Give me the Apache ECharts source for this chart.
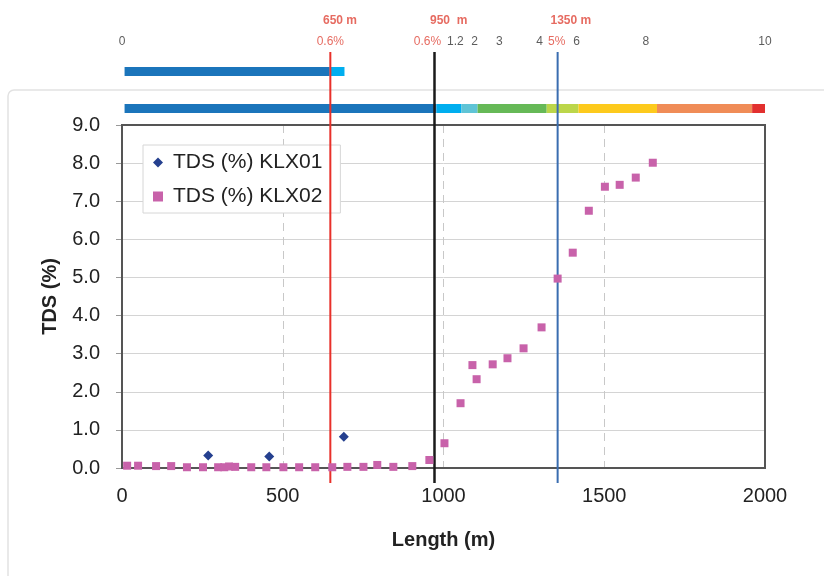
<!DOCTYPE html>
<html>
<head>
<meta charset="utf-8">
<script src="https://cdn.jsdelivr.net/npm/echarts@6/dist/echarts.min.js"></script>
<style>html,body{margin:0;padding:0;background:#fff}#c{width:824px;height:576px}</style>
</head>
<body>
<div id="c"></div>
<script>
// ---- data ----
const klx01 = [[268, 0.33], [458, 0.30], [690, 0.82]];
const klx02 = [
  [16, 0.06], [50, 0.06], [106, 0.05], [153, 0.05], [202, 0.02], [252, 0.02],
  [299, 0.02], [318, 0.02], [333, 0.04], [352, 0.03], [402, 0.02], [449, 0.02],
  [502, 0.02], [551, 0.02], [601, 0.02], [654, 0.02], [701, 0.03], [751, 0.03],
  [794, 0.08], [844, 0.03], [903, 0.05], [956, 0.21], [1003, 0.65], [1053, 1.70],
  [1090, 2.70], [1103, 2.33], [1153, 2.72], [1199, 2.88], [1249, 3.14], [1305, 3.69],
  [1355, 4.97], [1402, 5.65], [1452, 6.75], [1502, 7.38], [1548, 7.43], [1598, 7.62],
  [1651, 8.01]
];
const xTicks = [0, 500, 1000, 1500, 2000];
const yTicks = [0, 1, 2, 3, 4, 5, 6, 7, 8, 9];

// vertical marker lines (length, m)
const markerPos = [648, 972, 1355];
const markerColors = ['#e8302a', '#1a1a1a', '#3a6db0'];
const markerWidths = [2, 2.5, 2];

// top scale labels
const topTickLabels = ['0', '1.2', '2', '3', '4', '6', '8', '10'];
const topTickPos = [0, 1037, 1097, 1174, 1299, 1414, 1629, 2000];
const markerMLabels = ['650 m', '950  m', '1350 m'];
const markerMPos = [678, 1016, 1396];
const markerPctLabels = ['0.6%', '0.6%', '5%'];
const markerPctPos = [648, 950, 1352];

// colour bars: segment end positions (m), start at barStart
const barStart = 8;
const upperEnds = [645, 692];
const upperColors = ['#1b75bb', '#00aeef'];
const lowerEnds = [978, 1056, 1106, 1321, 1420, 1664, 1960, 2000];
const lowerColors = ['#1b75bb', '#00aeef', '#5fc4d6', '#66b957', '#bcd64a', '#fdca1c', '#f08c57', '#e2302f'];

// ---- build ----
function segs(ends, colors, row) {
  const out = [];
  let s = barStart;
  ends.forEach((e, i) => { out.push({ value: [s, e, row], itemStyle: { color: colors[i] } }); s = e; });
  return out;
}
const barData = segs(upperEnds, upperColors, 1.5).concat(segs(lowerEnds, lowerColors, 0.5));

const markerSeries = markerPos.map((p, i) => ({
  type: 'line', xAxisIndex: 1, yAxisIndex: 1, z: 3, silent: true,
  data: [[p, 0], [p, 1]], symbol: 'none',
  lineStyle: { color: markerColors[i], width: markerWidths[i] }
}));

const labelData = [];
topTickLabels.forEach((t, i) => labelData.push({ value: [topTickPos[i], 2], name: t, label: { color: '#333', fontWeight: 'normal' } }));
markerMLabels.forEach((t, i) => labelData.push({ value: [markerMPos[i], 1], name: t, label: { color: '#e0463a', fontWeight: 'bold' } }));
markerPctLabels.forEach((t, i) => labelData.push({ value: [markerPctPos[i], 2], name: t, label: { color: '#e0463a', fontWeight: 'normal' } }));

const FONT = 'Liberation Sans, Arial, sans-serif';
const chart = echarts.init(document.getElementById('c'), null, { renderer: 'canvas' });
const hidX = (gi) => ({ type: 'value', gridIndex: gi, min: 0, max: 2000, show: false });
chart.setOption({
  animation: false,
  backgroundColor: '#fff',
  textStyle: { fontFamily: FONT },
  graphic: [{
    type: 'rect', z: -10, silent: true,
    shape: { x: 8, y: 90, width: 840, height: 520, r: 6 },
    style: { fill: 'none', stroke: '#e2e2e2', lineWidth: 1.5 }
  }],
  grid: [
    { left: 122, right: 59, top: 125, bottom: 108, show: true, borderColor: '#555', borderWidth: 2, z: 1 },
    { left: 122, right: 59, top: 52, bottom: 93 },
    { left: 122, right: 59, top: 53, height: 74 },
    { left: 122, right: 59, top: 0, height: 63 }
  ],
  xAxis: [
    {
      type: 'value', gridIndex: 0, min: 0, max: 2000, interval: 500,
      axisLine: { show: true, onZero: false, lineStyle: { color: '#222', width: 2 } },
      axisTick: { show: false },
      axisLabel: { fontSize: 20, color: '#222', margin: 18, fontFamily: FONT, formatter: v => String(v) },
      splitLine: { show: true, lineStyle: { color: '#c8c8c8', type: [8, 6], width: 1 } },
      name: 'Length (m)', nameLocation: 'middle', nameGap: 62,
      nameTextStyle: { fontSize: 20, fontWeight: 'bold', color: '#222', fontFamily: FONT }
    },
    hidX(1), hidX(2), hidX(3)
  ],
  yAxis: [
    {
      type: 'value', gridIndex: 0, min: 0, max: 9, interval: 1,
      axisLine: { show: true, lineStyle: { color: '#222', width: 2 } },
      axisTick: { show: true, length: 6, lineStyle: { color: '#999' } },
      axisLabel: { fontSize: 20, color: '#222', margin: 22, fontFamily: FONT, formatter: v => v.toFixed(1) },
      splitLine: { show: true, lineStyle: { color: '#d4d4d4', width: 1 } },
      name: 'TDS (%)', nameLocation: 'middle', nameGap: 62,
      nameTextStyle: { fontSize: 20, fontWeight: 'bold', color: '#222', fontFamily: FONT }
    },
    { type: 'value', gridIndex: 1, min: 0, max: 1, show: false },
    { type: 'value', gridIndex: 2, min: 0, max: 2, show: false },
    { type: 'value', gridIndex: 3, min: 0, max: 3, inverse: true, show: false }
  ],
  legend: {
    data: ['TDS (%) KLX01', 'TDS (%) KLX02'],
    orient: 'vertical', left: 143, top: 145, z: 1,
    backgroundColor: '#fff', borderColor: '#d6d6d6', borderWidth: 1,
    padding: [7, 18, 6, 10], itemGap: 13, itemWidth: 10, itemHeight: 10,
    textStyle: { fontSize: 21, color: '#222', fontFamily: FONT, lineHeight: 21, padding: [0, 0, 0, 5] }
  },
  series: markerSeries.concat([
    {
      name: 'TDS (%) KLX01', type: 'scatter', xAxisIndex: 0, yAxisIndex: 0, z: 4,
      symbol: 'diamond', symbolSize: 10, itemStyle: { color: '#25408f', opacity: 1 },
      data: klx01
    },
    {
      name: 'TDS (%) KLX02', type: 'scatter', xAxisIndex: 0, yAxisIndex: 0, z: 4,
      symbol: 'rect', symbolSize: 8, itemStyle: { color: '#c862aa', opacity: 1 },
      data: klx02
    },
    {
      type: 'custom', xAxisIndex: 2, yAxisIndex: 2, silent: true, z: 2,
      renderItem: function (params, api) {
        const s = api.coord([api.value(0), api.value(2)]);
        const e = api.coord([api.value(1), api.value(2)]);
        return { type: 'rect', shape: { x: s[0], y: s[1] - 4.5, width: e[0] - s[0], height: 9 }, style: api.style() };
      },
      encode: { x: [0, 1], y: 2 },
      data: barData
    },
    {
      type: 'scatter', xAxisIndex: 3, yAxisIndex: 3, silent: true, symbolSize: 0, z: 5,
      label: { show: true, position: 'inside', fontSize: 12, fontFamily: FONT, formatter: p => p.name },
      data: labelData
    }
  ])
});
</script>
</body>
</html>
